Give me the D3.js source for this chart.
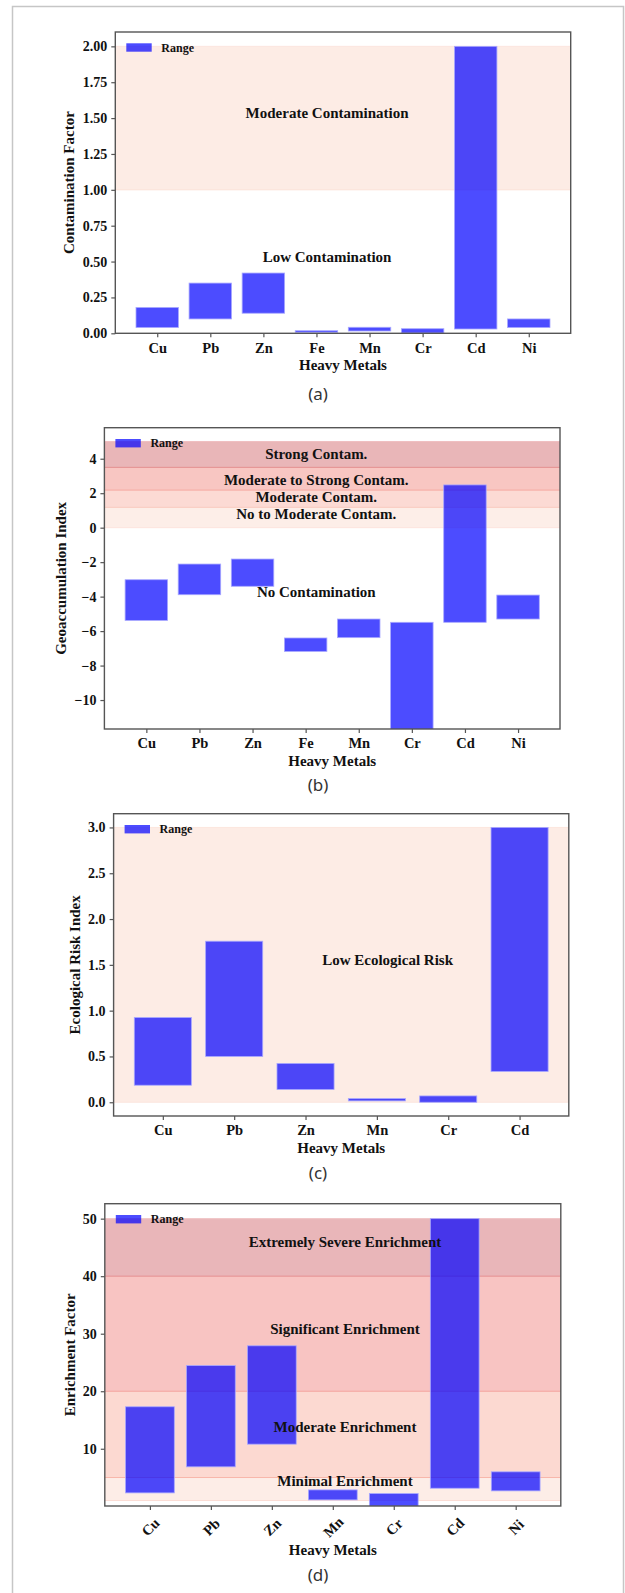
<!DOCTYPE html>
<html>
<head>
<meta charset="utf-8">
<script src="https://cdn.jsdelivr.net/npm/d3@7"></script>
<style>
  body { margin: 0; background: #fff; }
  svg { display: block; }
</style>
</head>
<body>
<script>
// ---- data ----
// (a) contamination factor
const metalsA = ["Cu", "Pb", "Zn", "Fe", "Mn", "Cr", "Cd", "Ni"];
const cfMin = [0.04, 0.10, 0.14, 0.007, 0.016, 0.002, 0.03, 0.04];
const cfMax = [0.18, 0.35, 0.42, 0.018, 0.042, 0.032, 2.00, 0.10];
const cfBands = [[1, 2]];
const cfZones = ["Moderate Contamination", "Low Contamination"];
const cfZoneY = [1.5, 0.5];
const cfTicks = [0, 0.25, 0.5, 0.75, 1, 1.25, 1.5, 1.75, 2];

// (b) geoaccumulation index
const metalsB = ["Cu", "Pb", "Zn", "Fe", "Mn", "Cr", "Cd", "Ni"];
const igeoMin = [-5.38, -3.89, -3.40, -7.18, -6.38, -12.5, -5.49, -5.30];
const igeoMax = [-3.02, -2.11, -1.82, -6.40, -5.30, -5.49, 2.48, -3.91];
const igeoBands = [[0, 1.18], [1.18, 2.18], [2.18, 3.5], [3.5, 5]];
const igeoZones = ["Strong Contam.", "Moderate to Strong Contam.", "Moderate Contam.", "No to Moderate Contam.", "No Contamination"];
const igeoZoneY = [4, 2.5, 1.5, 0.5, -4];
const igeoTicks = [-10, -8, -6, -4, -2, 0, 2, 4];

// (c) ecological risk index
const metalsC = ["Cu", "Pb", "Zn", "Mn", "Cr", "Cd"];
const eriMin = [0.186, 0.50, 0.139, 0.015, 0.0, 0.336];
const eriMax = [0.925, 1.758, 0.424, 0.04, 0.069, 3.0];
const eriBands = [[0, 3]];
const eriZones = ["Low Ecological Risk"];
const eriZoneY = [1.5];
const eriTicks = [0, 0.5, 1, 1.5, 2, 2.5, 3];

// (d) enrichment factor
const metalsD = ["Cu", "Pb", "Zn", "Mn", "Cr", "Cd", "Ni"];
const efMin = [2.33, 6.86, 10.8, 1.11, 0, 3.14, 2.68];
const efMax = [17.3, 24.46, 27.9, 2.85, 2.21, 50, 5.99];
const efBands = [[1, 5], [5, 20], [20, 40], [40, 50]];
const efZones = ["Extremely Severe Enrichment", "Significant Enrichment", "Moderate Enrichment", "Minimal Enrichment"];
const efZoneY = [45, 30, 13, 3.5];
const efTicks = [10, 20, 30, 40, 50];

// ---- drawing ----
const serif = "'Liberation Serif', 'Times New Roman', serif";

const svg = d3.select("body").append("svg")
  .attr("width", 625)
  .attr("height", 1593);

svg.append("rect").attr("width", 625).attr("height", 1593).attr("fill", "#fff");

// page border around the figure
svg.append("path")
  .attr("d", "M12.5,1600V6.5H623.5V1600")
  .attr("fill", "none")
  .attr("stroke", "#c6c6c6")
  .attr("stroke-width", 1.5);

function drawPanel(p) {
  const g = svg.append("g");
  const b = p.box;
  const n = p.metals.length;
  const m = 0.05 * (n - 1 + 0.8);

  const x = d3.scaleLinear().domain([-0.4 - m, n - 0.6 + m]).range([b.left, b.right]);
  const y = d3.scaleLinear().domain(p.yDomain).range([b.bottom, b.top]);

  g.append("clipPath").attr("id", "clip" + p.id)
    .append("rect")
    .attr("x", b.left).attr("y", b.top)
    .attr("width", b.right - b.left).attr("height", b.bottom - b.top);

  const plot = g.append("g").attr("clip-path", "url(#clip" + p.id + ")");

  // shaded classes
  plot.selectAll("rect.band").data(p.bands).join("rect")
    .attr("class", "band")
    .attr("x", b.left)
    .attr("width", b.right - b.left)
    .attr("y", d => y(d[1]))
    .attr("height", d => y(d[0]) - y(d[1]))
    .attr("fill", (d, i) => p.bandFill[i]);

  const edges = Array.from(new Set(p.bands.flat())).sort((a, c) => a - c);
  plot.selectAll("line.edge").data(edges).join("line")
    .attr("class", "edge")
    .attr("x1", b.left).attr("x2", b.right)
    .attr("y1", d => y(d)).attr("y2", d => y(d))
    .attr("stroke", (d, i) => p.edgeColor[i])
    .attr("stroke-width", 1);

  // range bars
  plot.selectAll("rect.bar").data(p.metals).join("rect")
    .attr("class", "bar")
    .attr("x", (d, i) => x(i - 0.4))
    .attr("width", (d, i) => x(i + 0.4) - x(i - 0.4))
    .attr("y", (d, i) => y(p.max[i]))
    .attr("height", (d, i) => y(p.min[i]) - y(p.max[i]))
    .attr("fill", "#0000ff")
    .attr("fill-opacity", 0.7)
    .attr("stroke", "#a8a8ff")
    .attr("stroke-width", 0.8);

  // class labels
  g.selectAll("text.zone").data(p.zones).join("text")
    .attr("class", "zone")
    .attr("x", x(p.zoneX))
    .attr("y", (d, i) => y(p.zoneY[i]))
    .attr("text-anchor", "middle")
    .attr("font-family", serif)
    .attr("font-weight", "bold")
    .attr("font-size", 15)
    .attr("fill", "#111")
    .text(d => d);

  // legend
  g.append("rect")
    .attr("x", b.left + 11).attr("y", b.top + 11.3)
    .attr("width", 25.4).attr("height", 8.4)
    .attr("fill", "#0000ff").attr("fill-opacity", 0.7);
  g.append("text")
    .attr("x", b.left + 46).attr("y", b.top + 19.6)
    .attr("font-family", serif).attr("font-weight", "bold").attr("font-size", 12)
    .attr("fill", "#111")
    .text("Range");

  // axes
  const yAxis = g.append("g")
    .attr("transform", `translate(${b.left},0)`)
    .call(d3.axisLeft(y).tickValues(p.yTicks).tickFormat(p.yFmt).tickSize(4).tickPadding(4));
  const xAxis = g.append("g")
    .attr("transform", `translate(0,${b.bottom})`)
    .call(d3.axisBottom(x).tickValues(d3.range(n)).tickFormat(i => p.metals[i]).tickSize(4).tickPadding(5));

  [yAxis, xAxis].forEach(a => {
    a.select(".domain").remove();
    a.selectAll(".tick line").attr("stroke", "#555").attr("stroke-width", 1.2);
    a.selectAll("text")
      .attr("font-family", serif).attr("font-weight", "bold")
      .attr("fill", "#111");
  });
  yAxis.selectAll("text").attr("font-size", 14);
  xAxis.selectAll("text").attr("font-size", 14.5);

  if (p.rotate) {
    xAxis.selectAll(".tick text")
      .attr("x", 0).attr("y", 0).attr("dy", null)
      .attr("transform", "translate(0,21) rotate(-45)")
      .attr("text-anchor", "middle")
      .attr("dominant-baseline", "central");
  }

  // frame
  g.append("rect")
    .attr("x", b.left).attr("y", b.top)
    .attr("width", b.right - b.left).attr("height", b.bottom - b.top)
    .attr("fill", "none").attr("stroke", "#555").attr("stroke-width", 1.4);

  // axis titles
  g.append("text")
    .attr("x", (b.left + b.right) / 2)
    .attr("y", b.bottom + p.xTitleGap)
    .attr("text-anchor", "middle")
    .attr("font-family", serif).attr("font-weight", "bold").attr("font-size", 15)
    .attr("fill", "#111")
    .text("Heavy Metals");

  g.append("text")
    .attr("transform", `translate(${p.yTitleX},${(b.top + b.bottom) / 2}) rotate(-90)`)
    .attr("text-anchor", "middle")
    .attr("font-family", serif).attr("font-weight", "bold").attr("font-size", 15)
    .attr("fill", "#111")
    .text(p.yTitle);

  // caption
  g.append("text")
    .attr("x", 318).attr("y", p.captionY)
    .attr("text-anchor", "middle")
    .attr("font-family", "'Noto Sans', 'Open Sans', sans-serif")
    .attr("font-size", 17)
    .attr("fill", "#333")
    .text(p.caption);
}

drawPanel({
  id: "a", metals: metalsA, min: cfMin, max: cfMax,
  box: { left: 115.3, right: 570.7, top: 32, bottom: 333.3 },
  yDomain: [0, 2.1], yTicks: cfTicks, yFmt: d3.format(".2f"),
  bands: cfBands, bandFill: ["#fdece5"], edgeColor: ["#fbe2d8", "#fce6de"],
  zones: cfZones, zoneY: cfZoneY, zoneX: 3.2,
  yTitle: "Contamination Factor", yTitleX: 73.5, xTitleGap: 36.7,
  caption: "(a)", captionY: 400
});

drawPanel({
  id: "b", metals: metalsB, min: igeoMin, max: igeoMax,
  box: { left: 104.4, right: 560, top: 427.7, bottom: 729 },
  yDomain: [-11.68, 5.8], yTicks: igeoTicks, yFmt: d3.format("d"),
  bands: igeoBands, bandFill: ["#fdeee8", "#fcdad4", "#f8c6c2", "#e9b6b8"],
  edgeColor: ["#fde4dc", "#f9c9bf", "#f5a8a0", "#e38d8e", "#efbfc1"],
  zones: igeoZones, zoneY: igeoZoneY, zoneX: 3.2,
  yTitle: "Geoaccumulation Index", yTitleX: 65.5, xTitleGap: 36.5,
  caption: "(b)", captionY: 791
});

drawPanel({
  id: "c", metals: metalsC, min: eriMin, max: eriMax,
  box: { left: 113.6, right: 568.8, top: 813.7, bottom: 1116 },
  yDomain: [-0.15, 3.15], yTicks: eriTicks, yFmt: d3.format(".1f"),
  bands: eriBands, bandFill: ["#fdece5"], edgeColor: ["#fce6de", "#fce6de"],
  zones: eriZones, zoneY: eriZoneY, zoneX: 3.15,
  yTitle: "Ecological Risk Index", yTitleX: 79.5, xTitleGap: 36.5,
  caption: "(c)", captionY: 1179
});

drawPanel({
  id: "d", metals: metalsD, min: efMin, max: efMax, rotate: true,
  box: { left: 104.8, right: 560.8, top: 1203.7, bottom: 1506 },
  yDomain: [0.05, 52.6], yTicks: efTicks, yFmt: d3.format("d"),
  bands: efBands, bandFill: ["#fdede7", "#fcd9d1", "#f8c4c2", "#e9b6b9"],
  edgeColor: ["#fcdcd4", "#f8b6aa", "#f4a39c", "#e68d8f", "#efc2c3"],
  zones: efZones, zoneY: efZoneY, zoneX: 3.2,
  yTitle: "Enrichment Factor", yTitleX: 75, xTitleGap: 49,
  caption: "(d)", captionY: 1581
});
</script>
</body>
</html>
